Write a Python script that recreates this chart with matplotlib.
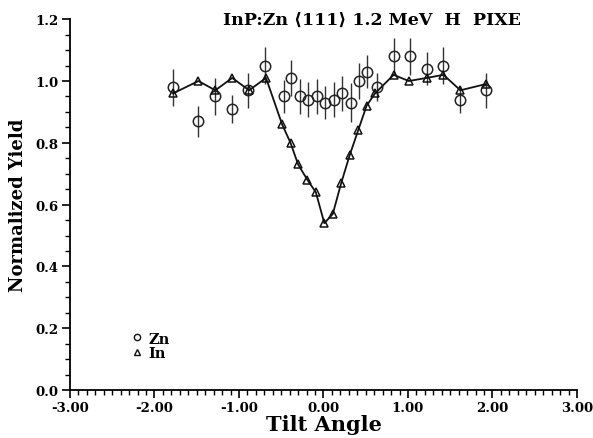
import numpy as np
import matplotlib.pyplot as plt
from matplotlib.ticker import MultipleLocator, FormatStrFormatter
from matplotlib.lines import Line2D

# Zn and In PIXE yields vs tilt angle
zn_angle = [-1.78, -1.48, -1.28, -1.08, -0.89, -0.69, -0.47, -0.38, -0.28, -0.18, -0.08,
            0.02, 0.12, 0.22, 0.32, 0.42, 0.52, 0.63, 0.83, 1.02, 1.23, 1.42, 1.62, 1.92]
zn_yield = [0.98, 0.87, 0.95, 0.91, 0.97, 1.05, 0.95, 1.01, 0.95, 0.94, 0.95,
            0.93, 0.94, 0.96, 0.93, 1.00, 1.03, 0.98, 1.08, 1.08, 1.04, 1.05, 0.94, 0.97]
zn_err = [0.06, 0.05, 0.06, 0.045, 0.057, 0.06, 0.054, 0.057, 0.057, 0.057, 0.057,
          0.054, 0.057, 0.057, 0.062, 0.057, 0.054, 0.045, 0.06, 0.06, 0.054, 0.06, 0.045, 0.057]

in_angle = [-1.78, -1.48, -1.28, -1.08, -0.88, -0.68, -0.49, -0.39, -0.30, -0.19, -0.09,
            0.01, 0.11, 0.21, 0.31, 0.41, 0.51, 0.61, 0.83, 1.01, 1.22, 1.42, 1.62, 1.92]
in_yield = [0.96, 1.00, 0.97, 1.01, 0.97, 1.01, 0.86, 0.80, 0.73, 0.68, 0.64,
            0.54, 0.57, 0.67, 0.76, 0.84, 0.92, 0.96, 1.02, 1.00, 1.01, 1.02, 0.97, 0.99]

FONT = ['DejaVu Serif', 'DejaVu Sans']
plt.rcParams['font.family'] = FONT
plt.rcParams['font.weight'] = 'bold'

fig = plt.figure(figsize=(5.93, 4.39), dpi=100)
ax = fig.add_axes([0.118, 0.109, 0.855, 0.845])

# Zn: open circles with error bars
ax.errorbar(zn_angle, zn_yield, yerr=zn_err, fmt='o', ms=7.5, mfc='none', mec='#222222',
            mew=1.1, ecolor='#333333', elinewidth=1.0, capsize=0, zorder=3)
# In: open triangles joined by a line
ax.plot(in_angle, in_yield, '-', color='#111111', lw=1.3, marker='^', ms=5.5,
        mfc='none', mec='#111111', mew=1.1, zorder=4)

ax.set_xlim(-3.0, 3.0)
ax.set_ylim(0.0, 1.2)
ax.xaxis.set_major_locator(MultipleLocator(1.0))
ax.xaxis.set_minor_locator(MultipleLocator(0.1))
ax.yaxis.set_major_locator(MultipleLocator(0.2))
ax.yaxis.set_minor_locator(MultipleLocator(0.05))
ax.xaxis.set_major_formatter(FormatStrFormatter('%.2f'))
ax.yaxis.set_major_formatter(FormatStrFormatter('%.1f'))

for side in ('top', 'right'):
    ax.spines[side].set_visible(False)
for side in ('left', 'bottom'):
    ax.spines[side].set_linewidth(1.3)
ax.tick_params(which='major', direction='out', length=6, width=1.2, labelsize=9.5, pad=2)
ax.tick_params(which='minor', direction='out', length=3.5, width=1.0)
for lab in ax.get_xticklabels() + ax.get_yticklabels():
    lab.set_fontweight('bold')

ax.set_xlabel('Tilt Angle', fontsize=15, fontweight='bold', labelpad=0)
ax.set_ylabel('Normalized Yield', fontsize=13, fontweight='bold', labelpad=6)

ax.text(0.595, 1.0, 'InP:Zn \u27e8111\u27e9 1.2 MeV  H  PIXE', transform=ax.transAxes,
        ha='center', va='center', fontsize=12.5, fontweight='bold', family=FONT)

handles = [Line2D([], [], ls='none', marker='o', ms=4.5, mfc='none', mec='#111111', mew=1.0),
           Line2D([], [], ls='none', marker='^', ms=4.5, mfc='none', mec='#111111', mew=1.0)]
ax.legend(handles, ['Zn', 'In'], loc='lower left', bbox_to_anchor=(0.095, 0.045),
          frameon=False, handlelength=0.8, handletextpad=0.4, labelspacing=0.05,
          prop={'family': FONT, 'weight': 'bold', 'size': 10.5})

fig.savefig('out.png', dpi=100)
